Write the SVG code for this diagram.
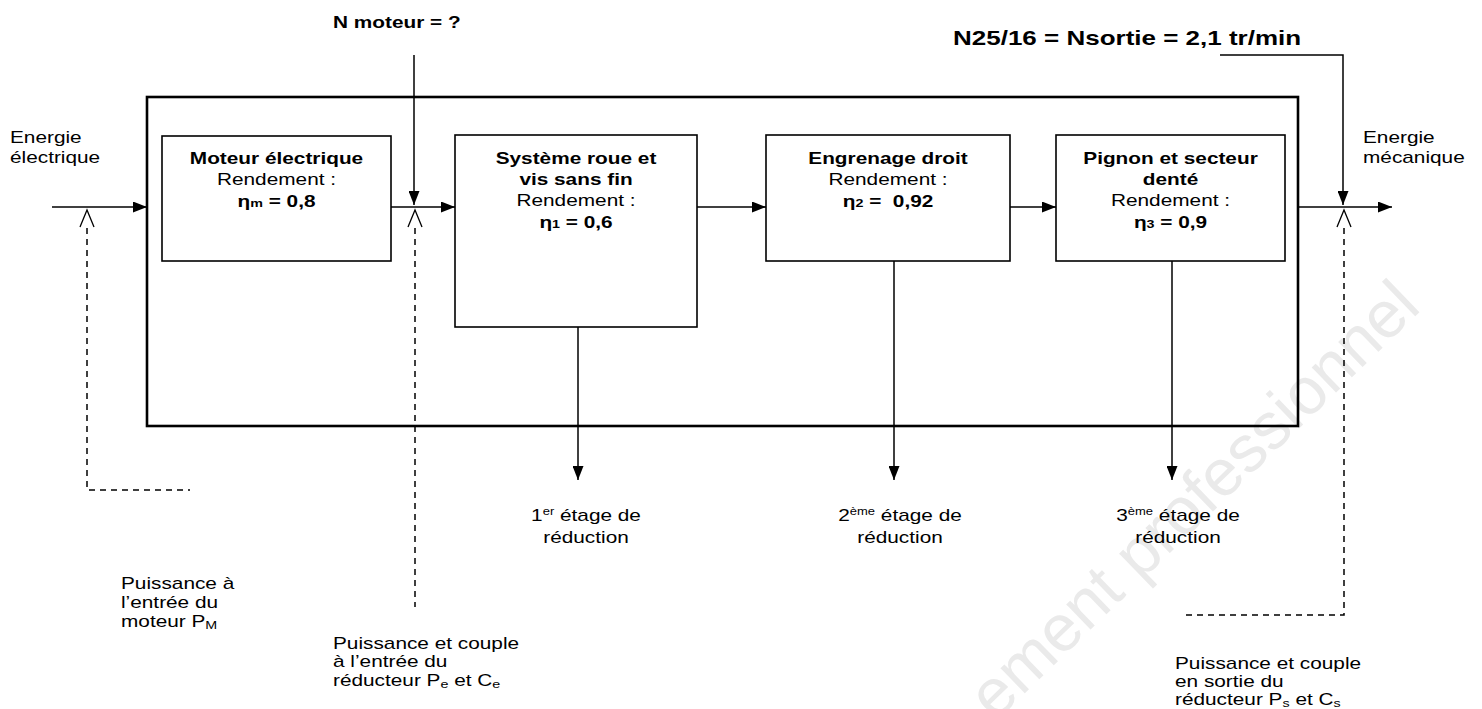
<svg xmlns="http://www.w3.org/2000/svg" width="1482" height="709" viewBox="0 0 1482 709">
<defs>
<style>
.t{font-family:"Liberation Sans",Arial,sans-serif;font-size:16px;fill:#000;white-space:pre}
.b{font-weight:bold}
.m{text-anchor:middle}
.box{fill:#fff;stroke:#000;stroke-width:1.6}
.outer{fill:none;stroke:#000;stroke-width:2.6}
.ln{fill:none;stroke:#000;stroke-width:1.5}
.arr{marker-end:url(#ah)}
.dash{fill:none;stroke:#000;stroke-width:1.5;stroke-dasharray:6 5}
.chev{fill:none;stroke:#000;stroke-width:1.3}
.wm{font-family:"Liberation Sans",Arial,sans-serif;font-size:66px;fill:#eaeaea}
</style>
<marker id="ah" viewBox="0 0 14 11" refX="14" refY="5.5" markerWidth="14" markerHeight="11" markerUnits="userSpaceOnUse" orient="auto">
<path d="M0,0 L14,5.5 L0,11 z" fill="#000"/>
</marker>
<path id="chv" d="M-7,17 L0,0 L7,17"/>
</defs>
<rect width="1482" height="709" fill="#fff"/>
<text class="wm" transform="translate(995,722) rotate(-44)">ement professionnel</text>

<rect id="reducteur" class="outer" x="147" y="97" width="1151" height="329"/>

<g id="connectors">
<path class="ln arr" d="M52,207 H147"/>
<path class="ln arr" d="M391,207 H455"/>
<path class="ln arr" d="M697,207 H766"/>
<path class="ln arr" d="M1010,207 H1056"/>
<path class="ln arr" d="M1298,207 H1392"/>
<path class="ln arr" d="M414,55 V205"/>
<path class="ln arr" d="M1220,55 H1343 V205"/>
<path class="ln arr" d="M578,327 V480"/>
<path class="ln arr" d="M894,261 V480"/>
<path class="ln arr" d="M1172,261 V480"/>
<path class="dash" d="M87,228 V490 H190"/>
<path class="dash" d="M415,228 V607"/>
<path class="dash" d="M1344,228 V615 H1183"/>
<use class="chev" href="#chv" x="87" y="210"/>
<use class="chev" href="#chv" x="415" y="210"/>
<use class="chev" href="#chv" x="1344" y="210"/>
</g>

<g id="moteur">
<rect class="box" x="162" y="136" width="229" height="125"/>
<text class="t b m" transform="translate(276.5,164) scale(1.3,1)">Moteur électrique</text>
<text class="t m" transform="translate(276.5,185) scale(1.3,1)">Rendement :</text>
<text class="t b m" transform="translate(276.5,207) scale(1.3,1)">η<tspan font-size="11">m</tspan> = 0,8</text>
</g>

<g id="roue-vis">
<rect class="box" x="455" y="135" width="242" height="192"/>
<text class="t b m" transform="translate(576,164) scale(1.3,1)">Système roue et</text>
<text class="t b m" transform="translate(576,185) scale(1.3,1)">vis sans fin</text>
<text class="t m" transform="translate(576,206) scale(1.3,1)">Rendement :</text>
<text class="t b m" transform="translate(576,228) scale(1.3,1)">η<tspan font-size="11">1</tspan> = 0,6</text>
</g>

<g id="engrenage">
<rect class="box" x="766" y="135" width="244" height="126"/>
<text class="t b m" transform="translate(888,164) scale(1.3,1)">Engrenage droit</text>
<text class="t m" transform="translate(888,185) scale(1.3,1)">Rendement :</text>
<text class="t b m" transform="translate(888,207) scale(1.3,1)">η<tspan font-size="11">2</tspan> =  0,92</text>
</g>

<g id="pignon">
<rect class="box" x="1056" y="135" width="229" height="126"/>
<text class="t b m" transform="translate(1170.5,164) scale(1.3,1)">Pignon et secteur</text>
<text class="t b m" transform="translate(1170.5,185) scale(1.3,1)">denté</text>
<text class="t m" transform="translate(1170.5,206) scale(1.3,1)">Rendement :</text>
<text class="t b m" transform="translate(1170.5,228) scale(1.3,1)">η<tspan font-size="11">3</tspan> = 0,9</text>
</g>

<g id="labels">
<text class="t" transform="translate(10,143) scale(1.3,1)">Energie</text>
<text class="t" transform="translate(10,163) scale(1.3,1)">électrique</text>
<text class="t" transform="translate(1363,143) scale(1.3,1)">Energie</text>
<text class="t" transform="translate(1363,163) scale(1.3,1)">mécanique</text>
<text class="t b" transform="translate(333,28) scale(1.3,1)">N moteur = ?</text>
<text class="t b" style="font-size:20px" transform="translate(953,45) scale(1.3,1)">N25/16 = Nsortie = 2,1 tr/min</text>

<text class="t m" transform="translate(586,521) scale(1.3,1)">1<tspan font-size="10" dy="-6">er</tspan><tspan dy="6"> étage de</tspan></text>
<text class="t m" transform="translate(586,543) scale(1.3,1)">réduction</text>
<text class="t m" transform="translate(900,521) scale(1.3,1)">2<tspan font-size="10" dy="-6">ème</tspan><tspan dy="6"> étage de</tspan></text>
<text class="t m" transform="translate(900,543) scale(1.3,1)">réduction</text>
<text class="t m" transform="translate(1178,521) scale(1.3,1)">3<tspan font-size="10" dy="-6">ème</tspan><tspan dy="6"> étage de</tspan></text>
<text class="t m" transform="translate(1178,543) scale(1.3,1)">réduction</text>

<text class="t" transform="translate(121,589) scale(1.3,1)">Puissance à</text>
<text class="t" transform="translate(121,608) scale(1.3,1)">l’entrée du</text>
<text class="t" transform="translate(121,627) scale(1.3,1)">moteur P<tspan font-size="11" dy="2">M</tspan></text>

<text class="t" transform="translate(333,649) scale(1.3,1)">Puissance et couple</text>
<text class="t" transform="translate(333,667) scale(1.3,1)">à l’entrée du</text>
<text class="t" transform="translate(333,686) scale(1.3,1)">réducteur P<tspan font-size="11" dy="2">e</tspan><tspan dy="-2"> et C</tspan><tspan font-size="11" dy="2">e</tspan></text>

<text class="t" transform="translate(1175,669) scale(1.3,1)">Puissance et couple</text>
<text class="t" transform="translate(1175,687) scale(1.3,1)">en sortie du</text>
<text class="t" transform="translate(1175,705) scale(1.3,1)">réducteur P<tspan font-size="11" dy="2">s</tspan><tspan dy="-2"> et C</tspan><tspan font-size="11" dy="2">s</tspan></text>
</g>
</svg>
